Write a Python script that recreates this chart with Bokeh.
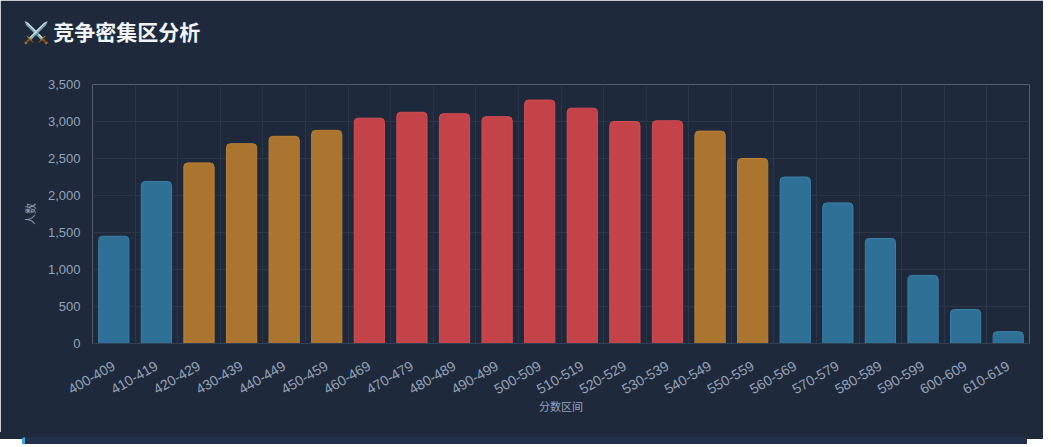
from bokeh.plotting import figure
from bokeh.models import (ColumnDataSource, FixedTicker, NumeralTickFormatter,
                          Range1d, Div, Title)
from bokeh.layouts import column
from bokeh.embed import file_html
from bokeh.resources import INLINE

# ---- data ----
categories = ["400-409", "410-419", "420-429", "430-439", "440-449", "450-459",
              "460-469", "470-479", "480-489", "490-499", "500-509", "510-519",
              "520-529", "530-539", "540-549", "550-559", "560-569", "570-579",
              "580-589", "590-599", "600-609", "610-619"]
counts = [1450, 2190, 2440, 2700, 2800, 2880, 3045, 3125, 3105, 3065, 3290, 3180,
          3000, 3010, 2870, 2500, 2250, 1900, 1420, 920, 460, 160]
levels = ["normal", "normal", "warm", "warm", "warm", "warm",
          "hot", "hot", "hot", "hot", "hot", "hot", "hot", "hot",
          "warm", "warm", "normal", "normal", "normal", "normal", "normal", "normal"]
y_ticks = [0, 500, 1000, 1500, 2000, 2500, 3000, 3500]
title_text = "⚔️ 竞争密集区分析"
x_title = "分数区间"
y_title = "人数"

# ---- style ----
BG = "#1e293b"
GRID = "#2b3649"
TICK = "#94a3b8"
level_fill = {"normal": "#2f7096", "warm": "#ab742f", "hot": "#c44348"}
level_line = {"normal": "#3a7fa8", "warm": "#b98036", "hot": "#d04d52"}

n = len(categories)
centers = [i + 0.5 for i in range(n)]
src = ColumnDataSource(dict(
    x=centers, top=counts, cat=categories,
    fill=[level_fill[l] for l in levels],
    line=[level_line[l] for l in levels],
))

p = figure(width=1043, height=432, output_backend="svg", toolbar_location=None,
           x_range=Range1d(0, n), y_range=Range1d(0, 3500),
           min_border_left=92, min_border_right=14, min_border_top=84,
           min_border_bottom=89,
           background_fill_color=BG, border_fill_color=BG, outline_line_color=None)

p.vbar(x="x", top="top", width=0.71, bottom=0, source=src,
       fill_color="fill", line_color="line", line_width=1,
       border_radius=(4, 4, 0, 0))

# title: a blank spacer next to the frame, then the real title further out
p.add_layout(Title(text=" ", text_font_size="26px", standoff=0), "above")
p.add_layout(Title(text=title_text, text_color="#f1f5f9",
                   text_font="Noto Sans CJK SC", text_font_style="bold",
                   text_font_size="21px", align="left", offset=22 - 92,
                   standoff=14), "above")

# grids
p.xgrid.ticker = FixedTicker(ticks=list(range(n + 1)))
p.xgrid.grid_line_color = GRID
p.ygrid.grid_line_color = GRID
p.ygrid.ticker = FixedTicker(ticks=y_ticks)

# x axis
xa = p.xaxis[0]
xa.ticker = FixedTicker(ticks=centers)
xa.major_label_overrides = {c: lab for c, lab in zip(centers, categories)}
xa.major_label_orientation = 0.5236
xa.major_label_text_color = TICK
xa.major_label_text_font = "Liberation Sans"
xa.major_label_text_font_size = "14px"
xa.major_label_standoff = 15
xa.major_tick_line_color = None
xa.minor_tick_line_color = None
xa.axis_line_color = "#334155"
xa.axis_label = x_title
xa.axis_label_text_color = TICK
xa.axis_label_text_font = "Noto Sans CJK SC"
xa.axis_label_text_font_size = "11px"
xa.axis_label_text_font_style = "normal"
xa.axis_label_standoff = -4

# y axis
ya = p.yaxis[0]
ya.ticker = FixedTicker(ticks=y_ticks)
ya.formatter = NumeralTickFormatter(format="0,0")
ya.major_label_text_color = TICK
ya.major_label_text_font = "Liberation Sans"
ya.major_label_text_font_size = "13px"
ya.major_label_standoff = 6
ya.major_tick_line_color = None
ya.minor_tick_line_color = None
ya.axis_line_color = None
ya.axis_label = y_title
ya.axis_label_text_color = TICK
ya.axis_label_text_font = "Noto Sans CJK SC"
ya.axis_label_text_font_size = "11px"
ya.axis_label_text_font_style = "normal"
ya.axis_label_standoff = 7

card = Div(width=1043, height=7, margin=0,
           styles={"background-color": BG},
           text=('<div style="margin-left:22px;width:1005px;height:7px;'
                 'background:#22304a;border-left:3px solid #3ba3e6;'
                 'border-radius:3px 3px 0 0;"></div>'))

layout = column(p, card, spacing=0)
open("out.html", "w").write(file_html(layout, INLINE))
